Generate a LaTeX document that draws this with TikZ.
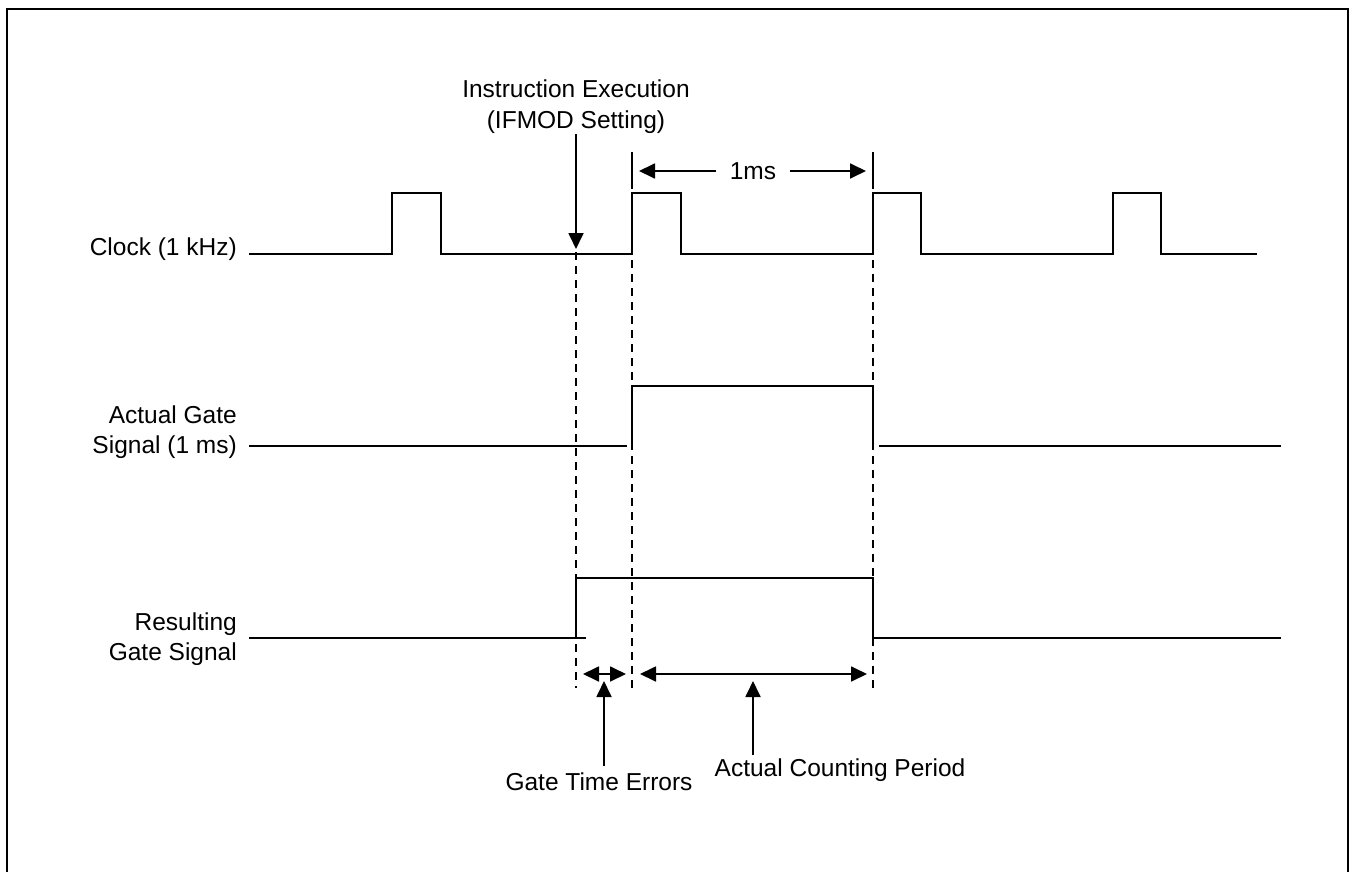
\documentclass[tikz,border=0pt]{standalone}
\usepackage{fontspec}
\setmainfont{Liberation Sans}
\usetikzlibrary{arrows.meta}
\begin{document}
\begin{tikzpicture}[x=1pt,y=-1pt,
  sig/.style={line width=1.8pt, line join=miter},
  guide/.style={line width=1.6pt, dash pattern=on 8pt off 6pt},
  tick/.style={line width=1.6pt},
  arr/.style={-{Triangle[length=16pt,width=15pt]}, line width=1.8pt},
  darr/.style={{Triangle[length=16pt,width=15pt]}-{Triangle[length=16pt,width=15pt]}, line width=1.8pt},
  lbl/.style={font=\fontsize{24.5}{30}\selectfont, inner sep=0pt},
  lblc/.style={lbl, align=center}]
\useasboundingbox (0,0) rectangle (1352,872);
\draw[line width=2.4pt] (7,874) -- (7,9) -- (1348,9) -- (1348,874);

% Labels on the left
\node[lbl, anchor=base east] (clk) at (237,255) {Clock (1 kHz)};
\node[lbl, anchor=base east] (ag1) at (237,423) {Actual Gate};
\node[lbl, anchor=base east] (ag2) at (237,453) {Signal (1 ms)};
\node[lbl, anchor=base east] (rg1) at (237,630) {Resulting};
\node[lbl, anchor=base east] (rg2) at (237,660) {Gate Signal};

% Clock
\draw[sig] (249,254) -- (392,254) -- (392,193) -- (441,193) -- (441,254)
  -- (632,254) -- (632,193) -- (681,193) -- (681,254)
  -- (873,254) -- (873,193) -- (921,193) -- (921,254)
  -- (1113,254) -- (1113,193) -- (1161,193) -- (1161,254) -- (1257,254);

% Actual gate signal
\draw[sig] (249,446) -- (627,446);
\draw[sig] (632,446) -- (632,386) -- (873,386) -- (873,446);
\draw[sig] (879,446) -- (1281,446);

% Resulting gate signal
\draw[sig] (249,638) -- (586,638);
\draw[sig] (576,638) -- (576,578) -- (873,578) -- (873,638) -- (1281,638);

% Dashed guides
\draw[guide] (576,252) -- (576,688);
\draw[guide] (632,260) -- (632,688);
\draw[guide] (873,260) -- (873,688);

% 1ms ticks and arrows
\draw[tick] (632,152) -- (632,189);
\draw[tick] (873,152) -- (873,189);
\node[lbl] (ms) at (753,171) {1ms};
\coordinate (msl) at (639,171);
\coordinate (msr) at (866,171);
\draw[arr] (716,171) -- (msl);
\draw[arr] (790,171) -- (msr);

% Instruction execution
\node[lblc, anchor=base] (ie1) at (576,98) {Instruction Execution};
\node[lblc, anchor=base] (ie2) at (576,129) {(IFMOD Setting)};
\coordinate (iet) at (576,249);
\draw[arr] (576,134) -- (iet);

% Bottom double arrows
\coordinate (g1) at (583,674);
\coordinate (g2) at (626,674);
\coordinate (c1) at (640,674);
\coordinate (c2) at (867,674);
\draw[darr] (g1) -- (g2);
\draw[darr] (c1) -- (c2);

% Bottom labels and pointing arrows
\node[lbl, anchor=base] (gte) at (599,790) {Gate Time Errors};
\node[lbl, anchor=base] (acp) at (840,776) {Actual Counting Period};
\coordinate (gtet) at (604,681);
\coordinate (acpt) at (753,681);
\draw[arr] (604,766) -- (gtet);
\draw[arr] (753,755) -- (acpt);
\end{tikzpicture}
\end{document}
